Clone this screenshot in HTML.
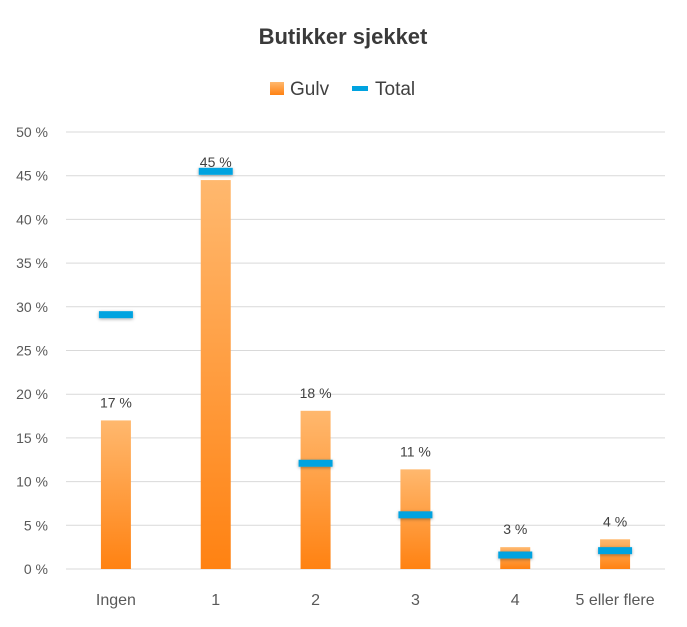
<!DOCTYPE html>
<html><head><meta charset="utf-8"><style>
body{margin:0;background:#fff;font-family:"Liberation Sans",sans-serif;}
</style></head><body>
<svg id="chart" width="687" height="622" xmlns="http://www.w3.org/2000/svg">
<defs>
<linearGradient id="barGrad" x1="0" y1="0" x2="0" y2="1">
<stop offset="0" stop-color="#ffb86e"/><stop offset="1" stop-color="#ff8212"/>
</linearGradient>
<filter id="sh" x="-30%" y="-100%" width="160%" height="300%"><feDropShadow dx="0" dy="1" stdDeviation="1.5" flood-color="#000" flood-opacity="0.35"/></filter>
</defs>
<text x="343" y="44" text-anchor="middle" font-size="22" font-weight="bold" fill="#3a3a3a">Butikker sjekket</text>
<g>
<rect x="270" y="82" width="14" height="13" fill="url(#barGrad)"/>
<text x="290" y="95" font-size="19" fill="#404040">Gulv</text>
<rect x="352" y="86" width="16" height="5" fill="#00a3e0"/>
<text x="375" y="95" font-size="19" fill="#404040">Total</text>
</g>
<g id="grid"></g><g id="bars"></g><g id="marks"></g><g id="labels"></g>
</svg>
<script>
const categories=["Ingen","1","2","3","4","5 eller flere"];
const gulv=[17,44.5,18.1,11.4,2.5,3.4];
const gulvLabels=["17 %","45 %","18 %","11 %","3 %","4 %"];
const total=[29.1,45.5,12.1,6.2,1.6,2.1];
const yTicks=[0,5,10,15,20,25,30,35,40,45,50];
const NS="http://www.w3.org/2000/svg";
const x0=66,x1=665,y0=569,y50=132;
const y=v=>y0-(y0-y50)*v/50;
const band=(x1-x0)/categories.length;
const xc=i=>x0+band*(i+0.5);
function mk(t,a,p){const e=document.createElementNS(NS,t);for(const k in a)e.setAttribute(k,a[k]);p.appendChild(e);return e;}
const g=document.getElementById('grid'),b=document.getElementById('bars'),m=document.getElementById('marks'),l=document.getElementById('labels');
yTicks.forEach(v=>{
 const ln=mk('line',{x1:x0,x2:x1,y1:y(v),y2:y(v),stroke:'#d9d9d9','stroke-width':1},g);
 
 
 const t=mk('text',{x:48,y:y(v)+5,'text-anchor':'end','font-size':14,fill:'#595959'},g);
 t.textContent=v+' %';
 
 
});
categories.forEach((c,i)=>{
 const r=mk('rect',{x:xc(i)-15,y:y(gulv[i]),width:30,height:y0-y(gulv[i]),fill:'url(#barGrad)'},b);
 
 
 const mr=mk('rect',{x:xc(i)-17,y:y(total[i])-3.5,width:34,height:7,fill:'#00a3e0',filter:'url(#sh)'},m);
 
 
 const t=mk('text',{x:xc(i),y:y(gulv[i])-13,'text-anchor':'middle','font-size':14,fill:'#404040'},l);
 t.textContent=gulvLabels[i];
 
 
 const ct=mk('text',{x:xc(i),y:605,'text-anchor':'middle','font-size':16,fill:'#595959'},l);
 ct.textContent=c;
 
 
});
</script>
</body></html>
